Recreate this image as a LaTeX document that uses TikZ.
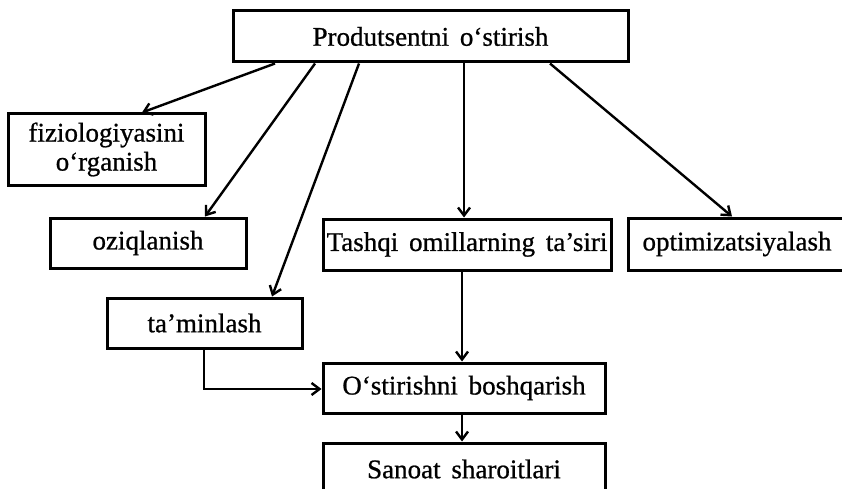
\documentclass[tikz,border=0pt]{standalone}
\usepackage{fontspec}
\setmainfont{Liberation Serif}[FakeBold=0.8, WordSpace=1.6]
\usetikzlibrary{arrows.meta}
\begin{document}
\begin{tikzpicture}[x=1pt,y=-1pt,
  box/.style={draw, line width=3pt, rectangle, inner sep=0pt, align=center,
    font=\fontsize{27}{29}\selectfont},
  arr/.style={line width=2.4pt, -{Straight Barb[length=8pt,width=12pt,line width=2.4pt]}}]
\useasboundingbox (0,0) rectangle (842,489);
\node[box, minimum width=395pt, minimum height=51pt] (top) at (430.5,36.5) {Produtsentni o‘stirish};
\node[box, minimum width=197pt, minimum height=71pt] (fiz) at (106.5,149.5) {fiziologiyasini\\o‘rganish};
\node[box, minimum width=196pt, minimum height=50pt] (ozi) at (148,243) {oziqlanish};
\node[box, minimum width=288pt, minimum height=51pt] (tash) at (467,244.5) {Tashqi omillarning ta’siri};
\node[box, minimum width=218pt, minimum height=52pt] (opt) at (737,244) {optimizatsiyalash};
\node[box, minimum width=195pt, minimum height=50pt] (tam) at (204.5,323) {ta’minlash};
\node[box, minimum width=282pt, minimum height=50pt] (ost) at (464,388) {O‘stirishni boshqarish};
\node[box, minimum width=282pt, minimum height=52pt] (san) at (464,469) {Sanoat sharoitlari};
\coordinate (bend) at (204,389);
\draw[arr] (top.south -| 275,0) -- (fiz.north -| 142,0);
\draw[arr] (top.south -| 315,0) -- (ozi.north -| 205,0);
\draw[arr] (top.south -| 359,0) -- (tam.north -| 272,0);
\draw[arr] (top.south -| 464,0) -- (tash.north -| 464,0);
\draw[arr] (top.south -| 550,0) -- (opt.north -| 732,0);
\draw[arr] (tash.south -| 462,0) -- (ost.north -| 462,0);
\draw[arr] (tam.south -| bend) -- (bend) -- (ost.west |- bend);
\draw[arr] (ost.south -| 462,0) -- (san.north -| 462,0);
\end{tikzpicture}
\end{document}
